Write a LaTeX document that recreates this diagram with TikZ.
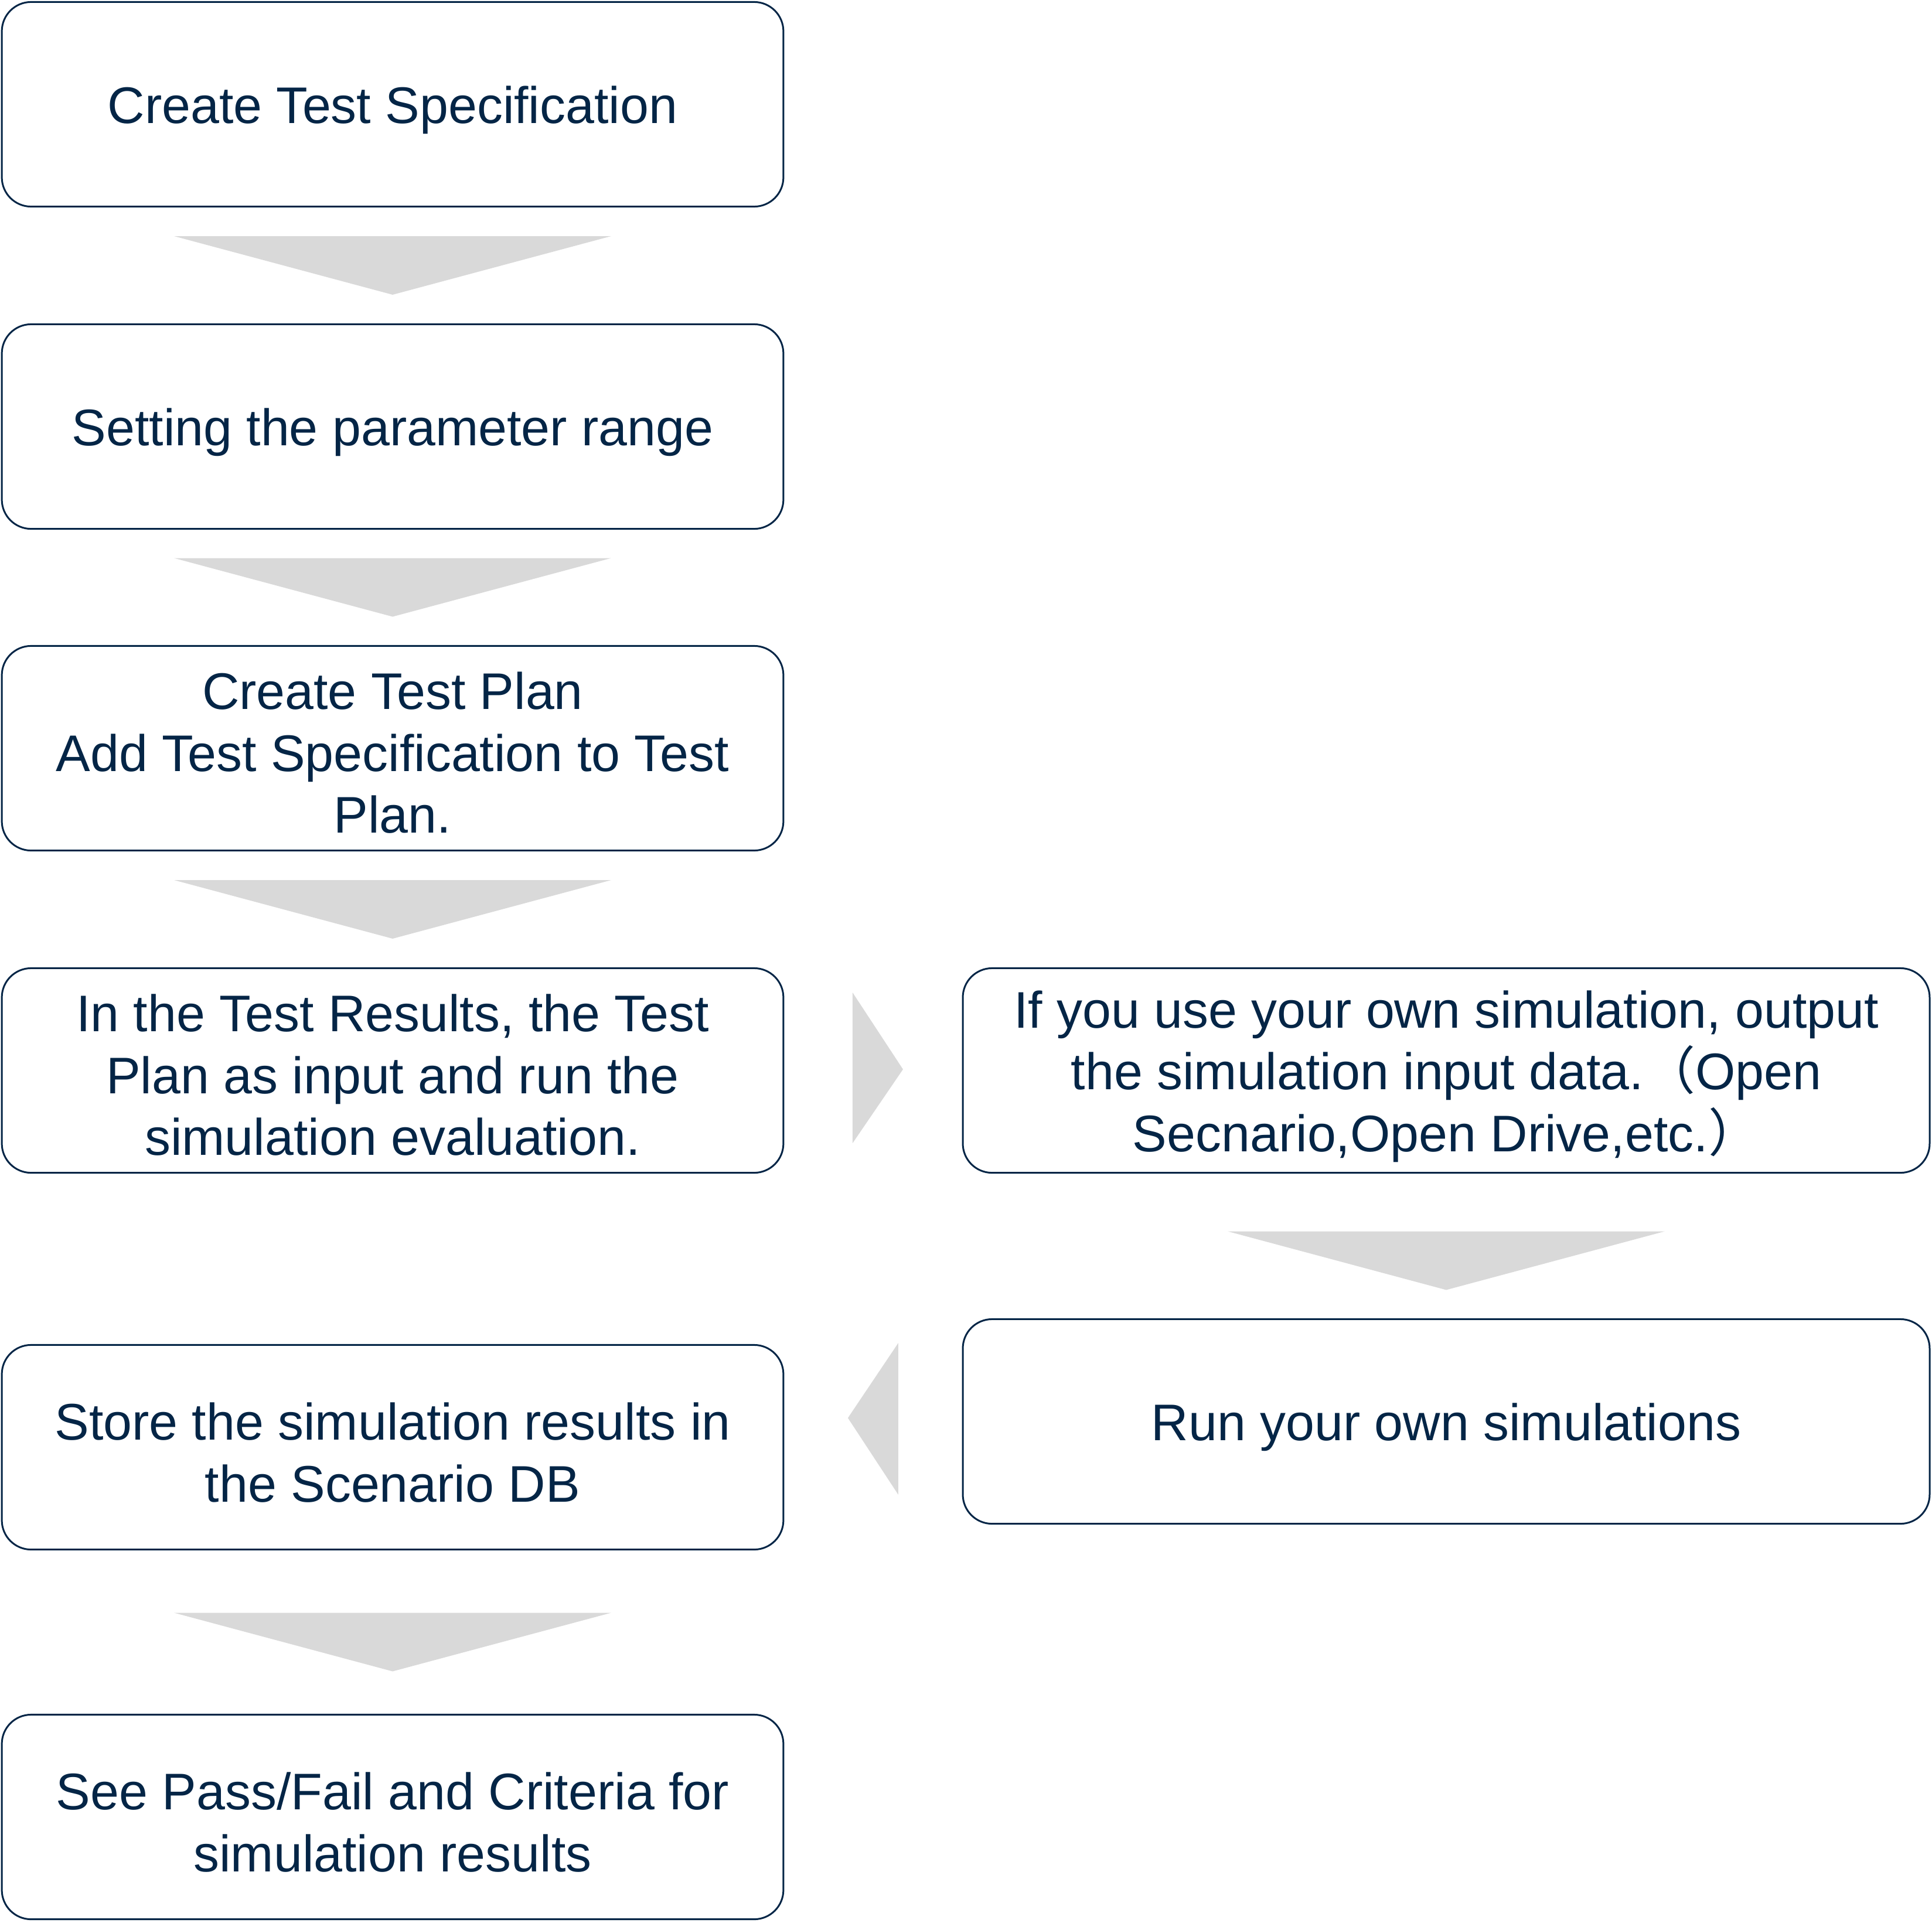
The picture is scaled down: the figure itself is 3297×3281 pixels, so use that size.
\documentclass[tikz,border=0pt]{standalone}
\usepackage{fontspec}
\setmainfont{Liberation Sans}
\newfontfamily\cjk{Noto Sans CJK SC}
\usetikzlibrary{calc}
\definecolor{navy}{HTML}{042546}
\definecolor{arrgray}{HTML}{D9D9D9}
\tikzset{
  box/.style={draw=navy, line width=0.85pt, rounded corners=0.5cm, fill=white,
    minimum height=3.49cm, inner sep=0pt},
  lbox/.style={box, minimum width=13.33cm},
  rbox/.style={box, minimum width=16.49cm},
  txt/.style={text=navy, align=center, font=\fontsize{25}{30}\selectfont, inner sep=0pt},
  chev/.style={fill=arrgray, draw=none}
}
\begin{document}
\begin{tikzpicture}[x=0.01cm, y=-0.01cm]
\useasboundingbox (0,0) rectangle (3297,3281);
\node[lbox] (b1) at (670,178) {};
\node[lbox] (b2) at (670,728) {};
\node[lbox] (b3) at (670,1277) {};
\node[lbox] (b4) at (670,1827) {};
\node[lbox] (b5) at (670,2470) {};
\node[lbox] (b6) at (670,3101) {};
\node[rbox] (r1) at (2468,1827) {};
\node[rbox] (r2) at (2468,2426) {};
\node[txt] (t1) at ($(b1.center)+(0,10)$) {Create Test Specification};
\node[txt] (t2) at ($(b2.center)+(0,10)$) {Setting the parameter range};
\node[txt] (t3) at ($(b3.center)+(0,8)$) {Create Test Plan\\Add Test Specification to Test\\Plan.};
\node[txt] (t4) at ($(b4.center)+(0,8)$) {In the Test Results, the Test\\Plan as input and run the\\simulation evaluation.};
\node[txt] (t5) at ($(b5.center)+(0,9)$) {Store the simulation results in\\the Scenario DB};
\node[txt] (t6) at ($(b6.center)+(0,9)$) {See Pass/Fail and Criteria for\\simulation results};
\node[txt] (tr1) at ($(r1.center)+(0,10)$) {If you use your own simulation, output\\the simulation input data.{\cjk（}Open\\Secnario,Open Drive,etc.{\cjk）}};
\node[txt] (tr2) at ($(r2.center)+(0,10)$) {Run your own simulations};
% down chevrons
\foreach \a/\b/\n/\s in {b1/b2/d1/0, b2/b3/d2/0, b3/b4/d3/0, b5/b6/d5/17, r1/r2/d4/25}{
  \coordinate (\n) at ($(\a.south)!0.5!(\b.north)+(0,\s)$);
  \fill[chev] ($(\n)+(-373,-50)$) -- ($(\n)+(373,-50)$) -- ($(\n)+(0,50)$) -- cycle;
}
% right chevron b4 -> r1
\coordinate (hr) at ($(b4.east)!0.5!(r1.west)$);
\fill[chev] ($(hr)+(-35,-133)$) -- ($(hr)+(51,-2)$) -- ($(hr)+(-35,124)$) -- cycle;
% left chevron r2 -> b5
\coordinate (hl) at ($(b5.east |- r2.west)!0.5!(r2.west)$);
\fill[chev] ($(hl)+(43,-134)$) -- ($(hl)+(-43,-6)$) -- ($(hl)+(43,125)$) -- cycle;
\end{tikzpicture}
\end{document}
